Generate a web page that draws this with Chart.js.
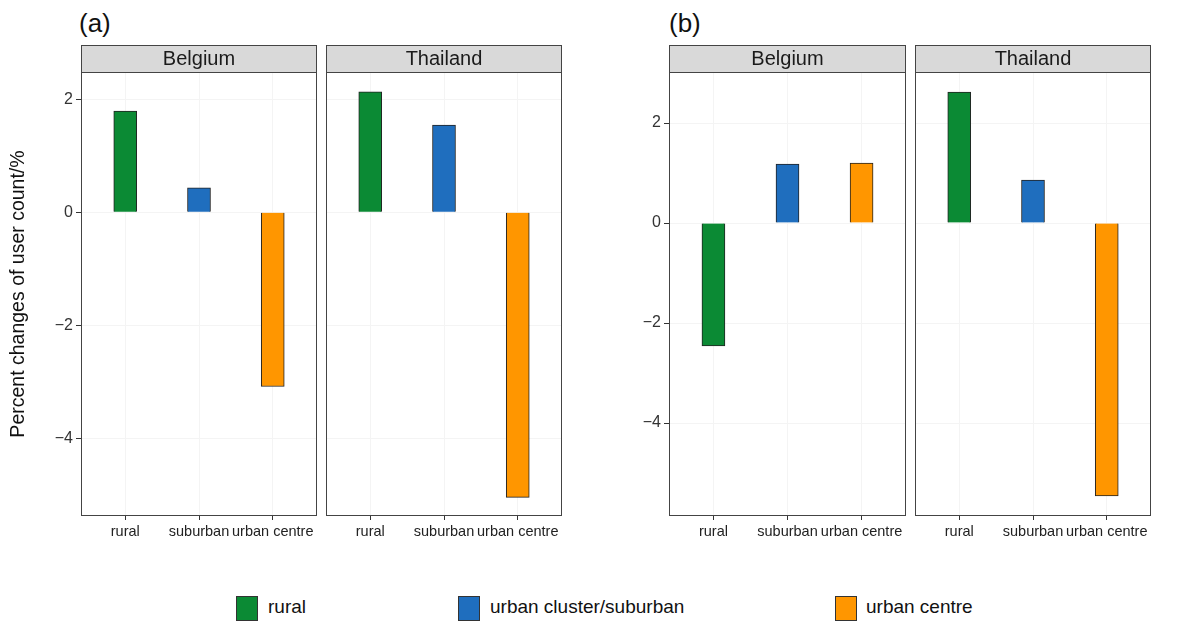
<!DOCTYPE html>
<html>
<head>
<meta charset="utf-8">
<script src="https://cdn.jsdelivr.net/npm/chart.js@4.4.1/dist/chart.umd.min.js"></script>
<style>
  html, body { margin: 0; padding: 0; background: #fff; }
  body { width: 1194px; height: 621px; position: relative; overflow: hidden; font-family: "Liberation Sans", Arial, sans-serif; }
  canvas { position: absolute; }
  .tag { position: absolute; font-size: 26px; color: #111; line-height: 1; }
  .leg-box { position: absolute; top: 596px; width: 22px; height: 25px; box-sizing: border-box; border: 1px solid #333; }
  .leg-txt { position: absolute; top: 596px; font-size: 19px; line-height: 22px; color: #111; white-space: nowrap; }
</style>
</head>
<body>
<div class="tag" style="left:79px; top:10px;">(a)</div>
<div class="tag" style="left:669px; top:10px;">(b)</div>

<canvas id="aBel" width="377" height="501" style="left:0px; top:45px;"></canvas>
<canvas id="aTha" width="336" height="501" style="left:286px; top:45px;"></canvas>
<canvas id="bBel" width="378" height="501" style="left:588px; top:45px;"></canvas>
<canvas id="bTha" width="316" height="501" style="left:875px; top:45px;"></canvas>

<div id="legend"></div>

<script>
// ---- data ----
const categories = ['rural', 'suburban', 'urban centre'];
const countries = ['Belgium', 'Thailand'];
const seriesNames = ['rural', 'urban cluster/suburban', 'urban centre'];
const seriesColors = ['#0b8a34', '#1f6ebe', '#ff9600'];
const yTicks = [-4, -2, 0, 2];
const yTitle = 'Percent changes of user count/%';

// panel (a)
const belgiumA = [1.79, 0.43, -3.08];
const thailandA = [2.13, 1.54, -5.04];
const rangeA = [-5.37, 2.48];
// panel (b)
const belgiumB = [-2.46, 1.18, 1.20];
const thailandB = [2.62, 0.86, -5.46];
const rangeB = [-5.86, 3.02];

const FONT = '"Liberation Sans", Arial, sans-serif';

// ---- plugin: facet strip + panel border ----
const STRIP_H = 27;
const panelPlugin = {
  id: 'panel',
  afterDraw(chart, args, opts) {
    const { ctx, chartArea: a } = chart;
    ctx.save();
    ctx.fillStyle = '#d9d9d9';
    ctx.fillRect(a.left, a.top - STRIP_H, a.right - a.left, STRIP_H);
    ctx.strokeStyle = '#444';
    ctx.lineWidth = 1;
    ctx.strokeRect(a.left + 0.5, a.top - STRIP_H + 0.5, a.right - a.left - 1, STRIP_H);
    ctx.strokeRect(a.left + 0.5, a.top + 0.5, a.right - a.left - 1, a.bottom - a.top - 1);
    ctx.fillStyle = '#1a1a1a';
    ctx.font = '20px ' + FONT;
    ctx.textAlign = 'center';
    ctx.textBaseline = 'middle';
    ctx.fillText(opts.title || '', (a.left + a.right) / 2, a.top - STRIP_H / 2 + 1);
    ctx.restore();
  }
};

function makeChart(id, country, values, range, showY, showTitle, pad) {
  const yScale = {
    type: 'linear',
    min: range[0],
    max: range[1],
    afterBuildTicks: s => { s.ticks = yTicks.map(v => ({ value: v })); },
    border: { display: false },
    grid: {
      color: '#f4f4f4',
      drawTicks: showY,
      tickLength: 5,
      tickColor: '#333'
    },
    ticks: {
      display: showY,
      color: '#333',
      padding: 3,
      font: { family: FONT, size: 16 },
      callback: v => String(v).replace('-', '\u2212')
    },
    title: {
      display: showTitle,
      text: yTitle,
      color: '#111',
      font: { family: FONT, size: 19.5 },
      padding: { top: 7, bottom: 0 }
    },
    afterFit: s => { s.width = showY ? 81 : 0; }
  };
  return new Chart(document.getElementById(id), {
    type: 'bar',
    data: {
      datasets: [{
        label: country,
        data: values.map((v, i) => ({ x: i + 1, y: v })),
        backgroundColor: seriesColors,
        borderColor: '#222',
        borderWidth: 1,
        barThickness: 23
      }]
    },
    options: {
      responsive: false,
      animation: false,
      devicePixelRatio: 1,
      layout: { padding: pad },
      plugins: {
        legend: { display: false },
        tooltip: { enabled: false },
        panel: { title: country }
      },
      scales: {
        x: {
          type: 'linear',
          min: 0.4,
          max: 3.6,
          offset: false,
          afterBuildTicks: s => { s.ticks = categories.map((c, i) => ({ value: i + 1 })); },
          border: { display: false },
          grid: { offset: false, color: '#f4f4f4', tickColor: '#333', tickLength: 4 },
          ticks: {
            autoSkip: false,
            maxRotation: 0,
            color: '#222',
            padding: 3,
            font: { family: FONT, size: 14.5 },
            callback: v => categories[Math.round(v) - 1]
          },
          afterFit: s => { s.height = 30; }
        },
        y: yScale
      }
    },
    plugins: [panelPlugin]
  });
}

makeChart('aBel', countries[0], belgiumA, rangeA, true, true, { top: STRIP_H, right: 60, left: 0, bottom: 0 });
makeChart('aTha', countries[1], thailandA, rangeA, false, false, { top: STRIP_H, right: 60, left: 40, bottom: 0 });
makeChart('bBel', countries[0], belgiumB, rangeB, true, false, { top: STRIP_H, right: 60, left: 0, bottom: 0 });
makeChart('bTha', countries[1], thailandB, rangeB, false, false, { top: STRIP_H, right: 40, left: 40, bottom: 0 });

// ---- legend ----
const legendPos = [[236, 268], [458, 490], [835, 866]];
const legend = document.getElementById('legend');
seriesNames.forEach((name, i) => {
  const box = document.createElement('div');
  box.className = 'leg-box';
  box.style.left = legendPos[i][0] + 'px';
  box.style.background = seriesColors[i];
  legend.appendChild(box);
  const txt = document.createElement('div');
  txt.className = 'leg-txt';
  txt.style.left = legendPos[i][1] + 'px';
  txt.textContent = name;
  legend.appendChild(txt);
});
</script>
</body>
</html>
